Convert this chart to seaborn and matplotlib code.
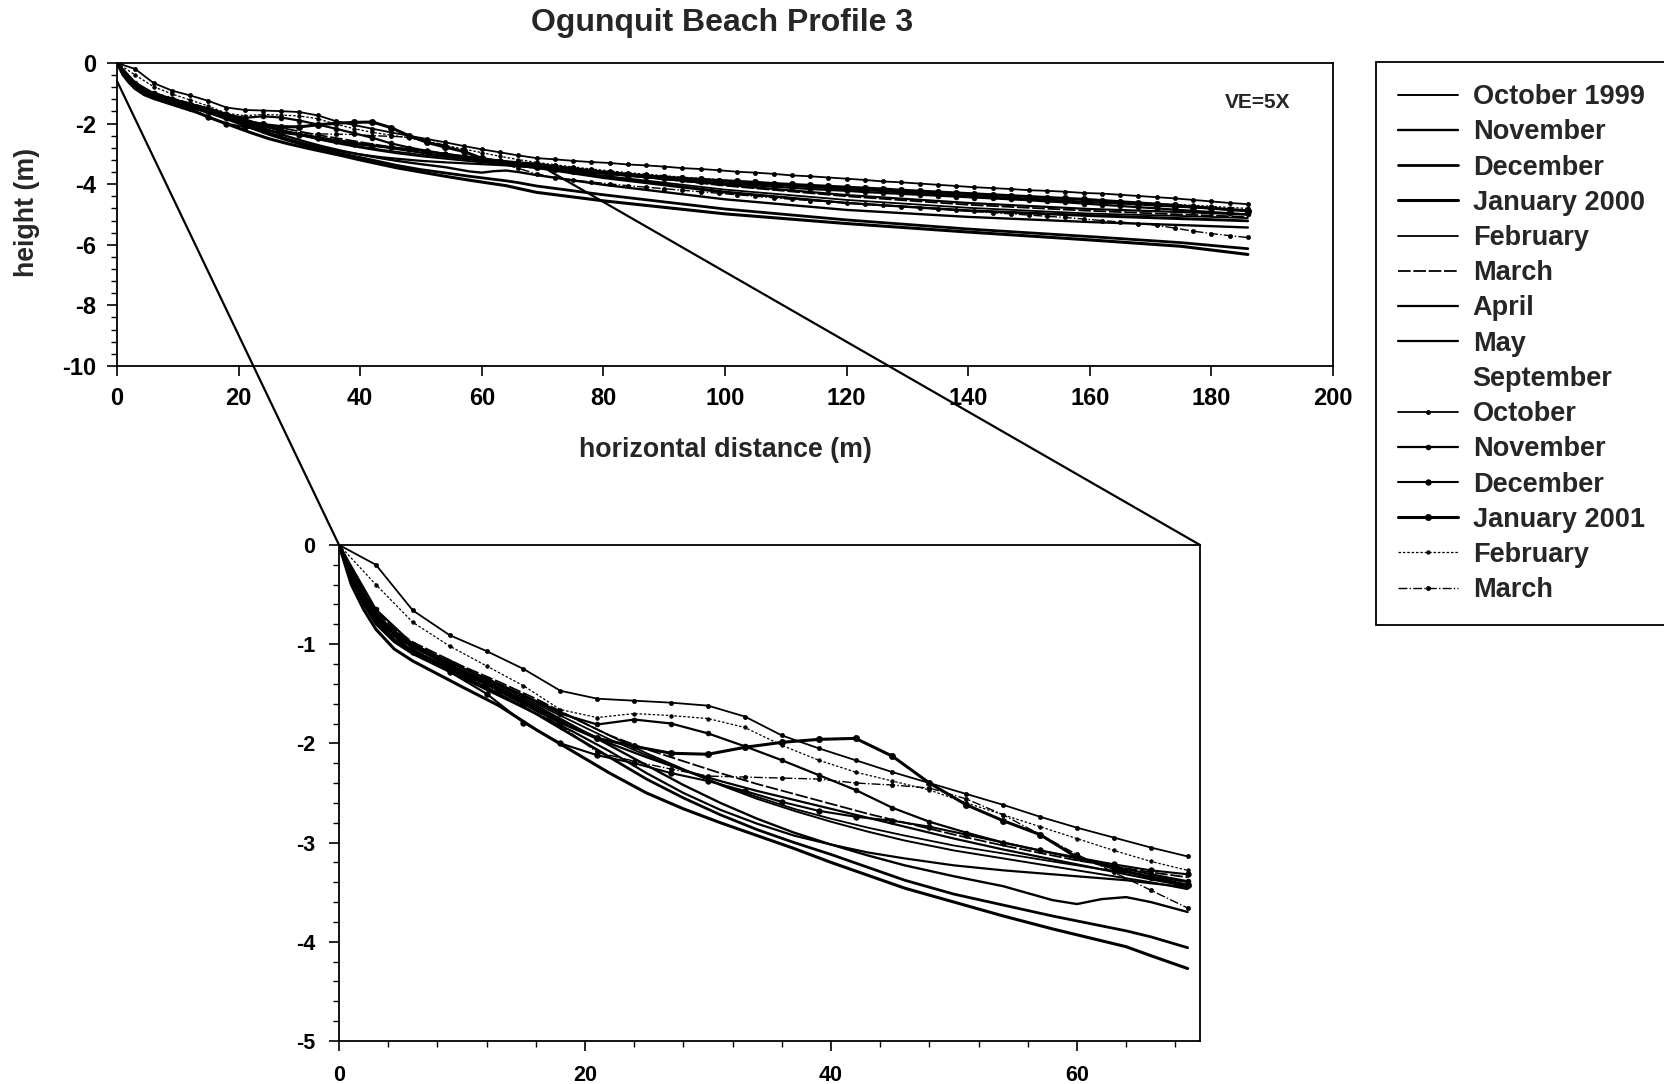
import numpy as np
import pandas as pd
import matplotlib
matplotlib.use("Agg")
import matplotlib.pyplot as plt
from matplotlib.lines import Line2D
from matplotlib.patches import ConnectionPatch
from matplotlib.ticker import MultipleLocator
import seaborn as sns

TITLE = "Ogunquit Beach Profile 3"
X_LABEL = "horizontal distance (m)"
Y_LABEL = "height (m)"
NOTE = "VE=5X"

SURVEYS = ["October 1999", "November", "December", "January 2000", "February",
           "March", "April", "May", "September", "October", "November",
           "December", "January 2001", "February", "March"]

# ---- 1999-2000 surveys (stations in m) ----
X_9900 = [0, 1, 2, 3, 4.5, 6, 8, 10,
          13, 16, 19, 22, 25, 28, 31, 34,
          37, 40, 43, 46, 50, 54, 58, 60,
          62, 64, 66, 69, 80, 100, 120, 140,
          160, 175, 186]

OCT_1999 = [0, -0.28, -0.50, -0.68, -0.88, -1.00, -1.12, -1.24,
            -1.40, -1.57, -1.74, -1.92, -2.10, -2.26, -2.42, -2.56,
            -2.68, -2.79, -2.89, -2.98, -3.08, -3.16, -3.24, -3.28,
            -3.32, -3.36, -3.40, -3.47, -3.80, -4.28, -4.62, -4.86,
            -5.02, -5.12, -5.20]
NOV_1999 = [0, -0.30, -0.52, -0.72, -0.92, -1.03, -1.15, -1.27,
            -1.44, -1.62, -1.82, -2.02, -2.22, -2.42, -2.60, -2.76,
            -2.90, -3.02, -3.13, -3.23, -3.34, -3.44, -3.58, -3.62,
            -3.57, -3.55, -3.60, -3.70, -4.02, -4.50, -4.85, -5.08,
            -5.25, -5.35, -5.43]
DEC_1999 = [0, -0.35, -0.58, -0.78, -0.97, -1.08, -1.20, -1.32,
            -1.50, -1.70, -1.92, -2.14, -2.36, -2.55, -2.72, -2.87,
            -3.00, -3.12, -3.25, -3.38, -3.52, -3.63, -3.74, -3.79,
            -3.84, -3.89, -3.95, -4.06, -4.35, -4.82, -5.18, -5.48,
            -5.73, -5.93, -6.13]
JAN_2000 = [0, -0.40, -0.65, -0.85, -1.05, -1.17, -1.30, -1.43,
            -1.62, -1.86, -2.08, -2.30, -2.50, -2.66, -2.80, -2.93,
            -3.06, -3.20, -3.33, -3.46, -3.60, -3.74, -3.87, -3.93,
            -3.99, -4.05, -4.14, -4.27, -4.55, -4.98, -5.30, -5.58,
            -5.84, -6.05, -6.32]
FEB_2000 = [0, -0.30, -0.54, -0.72, -0.90, -1.02, -1.14, -1.26,
            -1.42, -1.60, -1.78, -1.96, -2.12, -2.27, -2.41, -2.54,
            -2.66, -2.76, -2.85, -2.93, -3.03, -3.11, -3.19, -3.23,
            -3.27, -3.30, -3.34, -3.40, -3.72, -4.18, -4.52, -4.78,
            -4.97, -5.05, -5.12]
MAR_2000 = [0, -0.26, -0.48, -0.66, -0.85, -0.98, -1.10, -1.22,
            -1.38, -1.55, -1.74, -1.92, -2.06, -2.18, -2.30, -2.41,
            -2.51, -2.61, -2.71, -2.80, -2.92, -3.03, -3.13, -3.18,
            -3.22, -3.26, -3.30, -3.35, -3.62, -4.05, -4.40, -4.68,
            -4.88, -5.00, -5.08]
APR_2000 = [0, -0.32, -0.56, -0.75, -0.95, -1.06, -1.18, -1.30,
            -1.46, -1.64, -1.83, -2.00, -2.14, -2.27, -2.38, -2.48,
            -2.57, -2.66, -2.75, -2.84, -2.96, -3.07, -3.17, -3.22,
            -3.27, -3.32, -3.37, -3.44, -3.64, -4.02, -4.36, -4.62,
            -4.82, -4.92, -5.00]
MAY_2000 = [0, -0.34, -0.60, -0.80, -0.98, -1.10, -1.22, -1.34,
            -1.52, -1.70, -1.88, -2.08, -2.30, -2.50, -2.67, -2.81,
            -2.93, -3.02, -3.10, -3.16, -3.23, -3.28, -3.32, -3.34,
            -3.36, -3.38, -3.41, -3.45, -3.75, -4.25, -4.62, -4.88,
            -5.05, -5.15, -5.22]

# ---- 2000-2001 surveys, one station every 3 m from 0 to 186 m ----
X_0001 = np.arange(0, 187, 3)

OCT_2000 = [0, -0.20, -0.66, -0.91, -1.07, -1.25, -1.47, -1.55,
            -1.57, -1.59, -1.62, -1.73, -1.92, -2.05, -2.17, -2.29,
            -2.40, -2.51, -2.62, -2.74, -2.85, -2.95, -3.05, -3.14,
            -3.18, -3.23, -3.27, -3.30, -3.35, -3.38, -3.42, -3.47,
            -3.50, -3.54, -3.59, -3.62, -3.66, -3.71, -3.74, -3.78,
            -3.82, -3.86, -3.91, -3.94, -3.98, -4.02, -4.06, -4.10,
            -4.13, -4.16, -4.20, -4.22, -4.25, -4.29, -4.31, -4.35,
            -4.39, -4.43, -4.47, -4.52, -4.57, -4.62, -4.66]
NOV_2000 = [0, -0.65, -1.00, -1.18, -1.35, -1.52, -1.70, -1.81,
            -1.76, -1.80, -1.90, -2.03, -2.17, -2.32, -2.47, -2.65,
            -2.79, -2.90, -3.00, -3.08, -3.16, -3.24, -3.32, -3.39,
            -3.46, -3.53, -3.60, -3.66, -3.72, -3.77, -3.82, -3.87,
            -3.92, -3.96, -4.00, -4.04, -4.08, -4.12, -4.16, -4.19,
            -4.22, -4.26, -4.29, -4.32, -4.35, -4.38, -4.41, -4.44,
            -4.47, -4.50, -4.53, -4.57, -4.60, -4.64, -4.68, -4.72,
            -4.76, -4.80, -4.84, -4.88, -4.92, -4.96, -5.00]
DEC_2000 = [0, -0.75, -1.08, -1.28, -1.50, -1.79, -2.00, -2.12,
            -2.20, -2.30, -2.38, -2.48, -2.59, -2.68, -2.74, -2.78,
            -2.84, -2.92, -3.00, -3.08, -3.15, -3.22, -3.28, -3.32,
            -3.40, -3.47, -3.54, -3.60, -3.66, -3.71, -3.76, -3.81,
            -3.86, -3.90, -3.94, -3.98, -4.02, -4.06, -4.10, -4.13,
            -4.17, -4.20, -4.23, -4.27, -4.30, -4.33, -4.36, -4.39,
            -4.42, -4.45, -4.48, -4.51, -4.54, -4.58, -4.61, -4.64,
            -4.67, -4.71, -4.74, -4.77, -4.80, -4.84, -4.87]
JAN_2001 = [0, -0.72, -1.02, -1.22, -1.40, -1.60, -1.79, -1.95,
            -2.03, -2.10, -2.11, -2.04, -1.99, -1.96, -1.95, -2.13,
            -2.40, -2.62, -2.78, -2.92, -3.15, -3.26, -3.35, -3.43,
            -3.49, -3.55, -3.60, -3.65, -3.69, -3.73, -3.77, -3.81,
            -3.84, -3.88, -3.91, -3.94, -3.98, -4.01, -4.04, -4.07,
            -4.10, -4.13, -4.16, -4.20, -4.23, -4.26, -4.29, -4.32,
            -4.35, -4.38, -4.41, -4.44, -4.47, -4.50, -4.54, -4.58,
            -4.62, -4.66, -4.70, -4.75, -4.79, -4.84, -4.88]
FEB_2001 = [0, -0.40, -0.78, -1.02, -1.22, -1.42, -1.66, -1.74,
            -1.70, -1.72, -1.75, -1.84, -2.02, -2.17, -2.29, -2.38,
            -2.47, -2.60, -2.72, -2.84, -2.96, -3.08, -3.19, -3.28,
            -3.36, -3.43, -3.50, -3.56, -3.62, -3.67, -3.72, -3.77,
            -3.81, -3.85, -3.89, -3.93, -3.97, -4.00, -4.04, -4.07,
            -4.10, -4.14, -4.17, -4.20, -4.23, -4.26, -4.29, -4.32,
            -4.35, -4.38, -4.41, -4.44, -4.47, -4.50, -4.54, -4.57,
            -4.61, -4.64, -4.67, -4.70, -4.73, -4.77, -4.80]
MAR_2001 = [0, -0.70, -1.05, -1.25, -1.42, -1.60, -1.82, -2.09,
            -2.18, -2.26, -2.33, -2.34, -2.35, -2.36, -2.40, -2.42,
            -2.45, -2.56, -2.72, -2.92, -3.12, -3.30, -3.48, -3.66,
            -3.78, -3.86, -3.93, -3.99, -4.05, -4.10, -4.15, -4.20,
            -4.25, -4.30, -4.35, -4.40, -4.45, -4.50, -4.54, -4.58,
            -4.62, -4.66, -4.70, -4.74, -4.78, -4.82, -4.86, -4.90,
            -4.94, -4.98, -5.02, -5.06, -5.10, -5.15, -5.20, -5.25,
            -5.30, -5.36, -5.45, -5.55, -5.63, -5.70, -5.76]

PROFILES = [(X_9900, OCT_1999), (X_9900, NOV_1999), (X_9900, DEC_1999),
            (X_9900, JAN_2000), (X_9900, FEB_2000), (X_9900, MAR_2000),
            (X_9900, APR_2000), (X_9900, MAY_2000), None,
            (X_0001, OCT_2000), (X_0001, NOV_2000), (X_0001, DEC_2000),
            (X_0001, JAN_2001), (X_0001, FEB_2001), (X_0001, MAR_2001)]

# line styles for each survey (September carries no line)
STYLES = [dict(lw=1.4), dict(lw=1.7), dict(lw=2.0), dict(lw=2.2),
          dict(lw=1.3), dict(lw=1.3, ls=(0, (7, 1.5))), dict(lw=1.6),
          dict(lw=1.6), None,
          dict(lw=1.3, marker="o", ms=3.0),
          dict(lw=1.6, marker="o", ms=3.5),
          dict(lw=1.5, marker="o", ms=4.0),
          dict(lw=2.2, marker="o", ms=4.5),
          dict(lw=0.9, ls=(0, (2, 1.5)), marker="o", ms=2.6),
          dict(lw=1.0, ls="-.", marker="o", ms=3.0)]

ZOOM_XMAX = 70
# points of the overview profile that the inset frame is tied to
ZOOM_FROM = [(0, -0.6), (71, -3.55)]

sns.set_style("ticks")
plt.rcParams.update({
    "font.family": ["Liberation Sans", "DejaVu Sans"],
    "font.weight": "bold",
    "axes.labelweight": "bold",
    "axes.unicode_minus": False,
    "axes.edgecolor": "black",
    "axes.linewidth": 1.3,
    "xtick.color": "black",
    "ytick.color": "black",
    "xtick.direction": "out",
    "ytick.direction": "out",
})

fig = plt.figure(figsize=(16.65, 10.84), dpi=100)
ax_full = fig.add_axes([0.0703, 0.6624, 0.7303, 0.2795])
ax_zoom = fig.add_axes([0.2036, 0.0397, 0.5171, 0.4576])

handles = []
for label, prof, st in zip(SURVEYS, PROFILES, STYLES):
    if prof is None:
        handles.append(Line2D([], [], linestyle="none"))
        continue
    xs, ys = prof
    df = pd.DataFrame({"distance": np.asarray(xs, float), "height": ys})
    kw = dict(st)
    lw = kw.pop("lw")
    ls = kw.pop("ls", "-")
    common = dict(x="distance", y="height", sort=False, estimator=None,
                  color="black", linewidth=lw, linestyle=ls, legend=False,
                  markeredgecolor="black", markerfacecolor="black",
                  markeredgewidth=0.5, **kw)
    sns.lineplot(data=df, ax=ax_full, **common)
    handles.append(ax_full.get_lines()[-1])
    near = df[df["distance"] <= ZOOM_XMAX - 0.5]
    sns.lineplot(data=near, ax=ax_zoom, **common)

# overview panel
ax_full.set_xlim(0, 200)
ax_full.set_ylim(-10, 0)
ax_full.xaxis.set_major_locator(MultipleLocator(20))
ax_full.yaxis.set_major_locator(MultipleLocator(2))
ax_full.yaxis.set_minor_locator(MultipleLocator(0.4))
ax_full.tick_params(which="major", length=7, width=1.2, labelsize=17, pad=8)
ax_full.tick_params(which="minor", length=4, width=1.0)
ax_full.set_xlabel(X_LABEL, fontsize=19.3, fontweight="bold")
ax_full.set_ylabel(Y_LABEL, fontsize=19.3, fontweight="bold")
ax_full.xaxis.set_label_coords(0.5, -0.235)
ax_full.yaxis.set_label_coords(-0.063, 0.508)
ax_full.text(0.938, 0.868, NOTE, transform=ax_full.transAxes, ha="center",
             va="center", fontsize=15, fontweight="bold")

# inset panel
ax_zoom.set_xlim(0, ZOOM_XMAX)
ax_zoom.set_ylim(-5, 0)
ax_zoom.xaxis.set_major_locator(MultipleLocator(20))
ax_zoom.xaxis.set_minor_locator(MultipleLocator(4))
ax_zoom.yaxis.set_major_locator(MultipleLocator(1))
ax_zoom.yaxis.set_minor_locator(MultipleLocator(0.2))
ax_zoom.tick_params(which="major", length=7, width=1.2, labelsize=15.5, pad=10)
ax_zoom.tick_params(which="minor", length=4, width=1.0)
ax_zoom.set_xlabel("")
ax_zoom.set_ylabel("")

for ax in (ax_full, ax_zoom):
    for side in ("top", "right", "left", "bottom"):
        ax.spines[side].set_visible(True)
        ax.spines[side].set_linewidth(1.3)
    for t in ax.get_xticklabels() + ax.get_yticklabels():
        t.set_fontweight("bold")

# lines tying the inset frame to the overview
x0, x1 = ax_zoom.get_xlim()
y_top = ax_zoom.get_ylim()[1]
for (xa, ya), xb in zip(ZOOM_FROM, (x0, x1)):
    con = ConnectionPatch(xyA=(xa, ya), coordsA=ax_full.transData,
                          xyB=(xb, y_top), coordsB=ax_zoom.transData,
                          color="black", lw=1.6)
    fig.add_artist(con)

fig.text(0.4336, 0.9788, TITLE, ha="center", va="center", fontsize=23,
         fontweight="bold")

leg = fig.legend(handles, SURVEYS, loc="upper left",
                 bbox_to_anchor=(1376 / 1665, 1 - 62 / 1084),
                 frameon=True, fancybox=False, shadow=False,
                 edgecolor="black", framealpha=1, fontsize=19.5,
                 handlelength=2.2, handletextpad=0.55, labelspacing=0.34,
                 borderpad=0.82, borderaxespad=0)
leg.get_frame().set_linewidth(1.3)
for t in leg.get_texts():
    t.set_fontweight("bold")

fig.savefig("out.png", dpi=100, facecolor="white")
